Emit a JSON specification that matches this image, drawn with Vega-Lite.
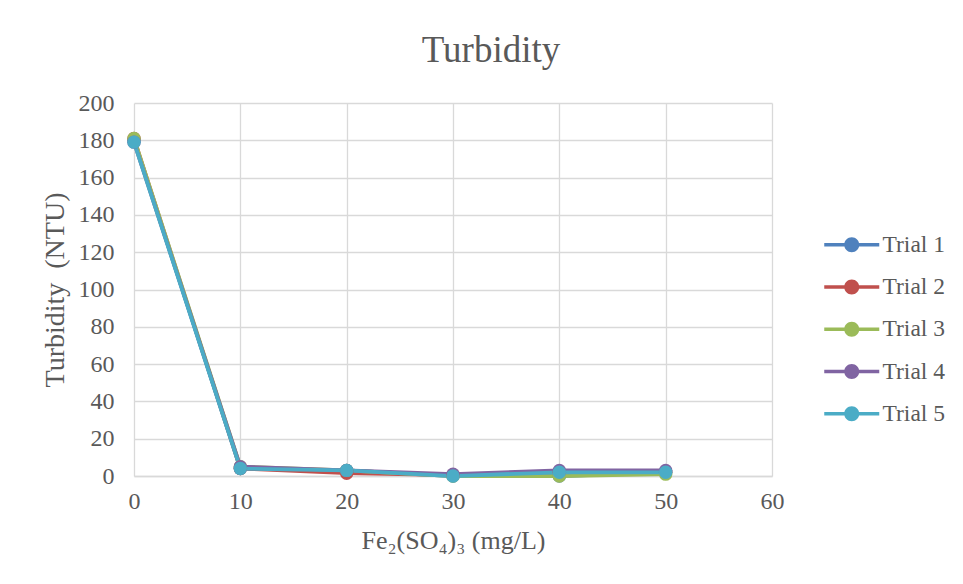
{
  "$schema": "https://vega.github.io/schema/vega-lite/v6.json",
  "autosize": "none",
  "width": 638,
  "height": 373,
  "padding": {"left": 134, "top": 103, "right": 191, "bottom": 108},
  "background": "white",
  "title": {"text": "Turbidity", "font": "Liberation Serif", "fontSize": 37, "fontWeight": "normal", "color": "#595959", "anchor": "middle", "offset": 21, "dx": 38},
  "data": {"values": [
    {"dose": 0, "trial": "Trial 1", "ntu": 180}, {"dose": 10, "trial": "Trial 1", "ntu": 4}, {"dose": 20, "trial": "Trial 1", "ntu": 3}, {"dose": 30, "trial": "Trial 1", "ntu": 0}, {"dose": 40, "trial": "Trial 1", "ntu": 0}, {"dose": 50, "trial": "Trial 1", "ntu": 2},
    {"dose": 0, "trial": "Trial 2", "ntu": 181}, {"dose": 10, "trial": "Trial 2", "ntu": 4}, {"dose": 20, "trial": "Trial 2", "ntu": 1.5}, {"dose": 30, "trial": "Trial 2", "ntu": 0.5}, {"dose": 40, "trial": "Trial 2", "ntu": 2}, {"dose": 50, "trial": "Trial 2", "ntu": 2},
    {"dose": 0, "trial": "Trial 3", "ntu": 181}, {"dose": 10, "trial": "Trial 3", "ntu": 5}, {"dose": 20, "trial": "Trial 3", "ntu": 3}, {"dose": 30, "trial": "Trial 3", "ntu": 0}, {"dose": 40, "trial": "Trial 3", "ntu": 0}, {"dose": 50, "trial": "Trial 3", "ntu": 1},
    {"dose": 0, "trial": "Trial 4", "ntu": 179}, {"dose": 10, "trial": "Trial 4", "ntu": 5}, {"dose": 20, "trial": "Trial 4", "ntu": 3}, {"dose": 30, "trial": "Trial 4", "ntu": 1}, {"dose": 40, "trial": "Trial 4", "ntu": 3}, {"dose": 50, "trial": "Trial 4", "ntu": 3},
    {"dose": 0, "trial": "Trial 5", "ntu": 179}, {"dose": 10, "trial": "Trial 5", "ntu": 4}, {"dose": 20, "trial": "Trial 5", "ntu": 3}, {"dose": 30, "trial": "Trial 5", "ntu": 0}, {"dose": 40, "trial": "Trial 5", "ntu": 2}, {"dose": 50, "trial": "Trial 5", "ntu": 2}
  ]},
  "encoding": {
    "x": {"field": "dose", "type": "quantitative", "scale": {"domain": [0, 60], "nice": false},
      "axis": {"title": "Fe₂(SO₄)₃ (mg/L)", "values": [0, 10, 20, 30, 40, 50, 60], "labelFlush": false, "grid": true, "gridColor": "#d9d9d9", "gridWidth": 1.3, "domainColor": "#d9d9d9", "domainWidth": 1.3, "ticks": false, "labelPadding": 13, "labelFont": "Liberation Serif", "labelFontSize": 24, "labelColor": "#595959", "titleFont": "Liberation Serif", "titleFontSize": 26, "titleFontWeight": "normal", "titleColor": "#595959", "titlePadding": 14}},
    "y": {"field": "ntu", "type": "quantitative", "scale": {"domain": [0, 200], "nice": false},
      "axis": {"title": "Turbidity\u00a0\u00a0(NTU)", "values": [0, 20, 40, 60, 80, 100, 120, 140, 160, 180, 200], "labelFlush": false, "grid": true, "gridColor": "#d9d9d9", "gridWidth": 1.3, "domain": false, "ticks": false, "labelPadding": 20, "labelFont": "Liberation Serif", "labelFontSize": 24, "labelColor": "#595959", "titleFont": "Liberation Serif", "titleFontSize": 28, "titleFontWeight": "normal", "titleColor": "#595959", "titlePadding": 9}},
    "color": {"field": "trial", "type": "nominal",
      "scale": {"domain": ["Trial 1", "Trial 2", "Trial 3", "Trial 4", "Trial 5"], "range": ["#4F81BD", "#C0504D", "#9BBB59", "#8064A2", "#4BACC6"]},
      "legend": {"title": null, "orient": "none", "legendX": 706, "legendY": 130, "padding": 0,
        "symbolType": "M-2.75,-0.17 H2.75 V0.17 H-2.75 Z M0.75,0 A0.75,0.75 0 1,1 -0.75,0 A0.75,0.75 0 1,1 0.75,0 Z",
        "symbolSize": 400, "symbolStrokeWidth": 0, "labelOffset": 19, "rowPadding": 17.25,
        "labelFont": "Liberation Serif", "labelFontSize": 23.5, "labelColor": "#595959",
        "encode": {"symbols": {"update": {"fill": {"scale": "color", "field": "value"}, "strokeWidth": {"value": 0}, "opacity": {"value": 1}}}}}}
  },
  "layer": [
    {"mark": {"type": "line", "strokeWidth": 3.75}},
    {"mark": {"type": "point", "filled": true, "size": 180, "opacity": 1}}
  ],
  "config": {"font": "Liberation Serif", "view": {"stroke": null}, "axis": {"labelFont": "Liberation Serif", "titleFont": "Liberation Serif"}, "legend": {"labelFont": "Liberation Serif"}}
}
